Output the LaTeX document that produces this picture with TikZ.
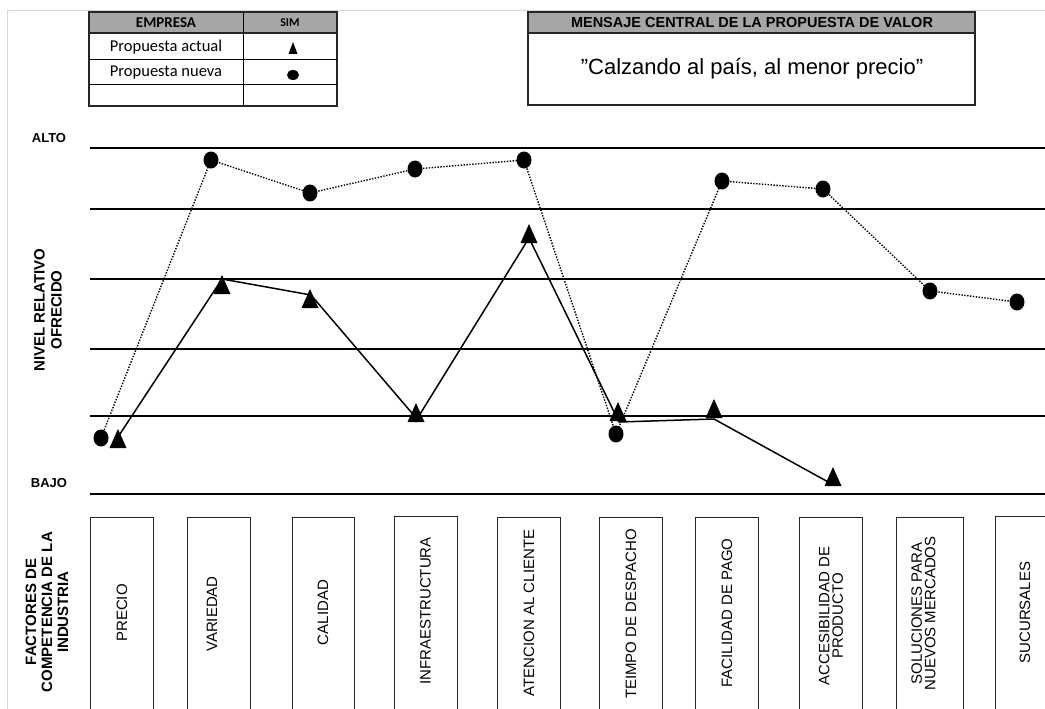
\documentclass[tikz,border=0pt]{standalone}
\usepackage{fontspec}
\usetikzlibrary{calc}
\setmainfont{Liberation Sans}
\newfontfamily\carlito{Carlito}
\begin{document}
\begin{tikzpicture}[x=1pt,y=-1pt,
  grid/.style={line width=1.6pt,black},
  frame/.style={line width=1.3pt,black!85},
  boxline/.style={draw,line width=1.3pt,black!85,anchor=north west,minimum height=220pt,inner sep=0pt},
  factor/.style={rotate=90,align=center,font=\fontsize{15}{13.5}\selectfont},
  axis/.style={font=\bfseries\fontsize{13}{15}\selectfont},
  actual/.style={line width=1.5pt,black},
  nueva/.style={line width=1.4pt,black,dash pattern=on 1.4pt off 1.5pt},
  tri/.pic={\fill (-8.5,8) -- (8.5,8) -- (0,-11) -- cycle;},
  dot/.pic={\fill (0,0) ellipse [x radius=7.5pt,y radius=8.5pt];}
]
\useasboundingbox (0,0) rectangle (1045,709);
\clip (0,0) rectangle (1045,709);

% page edge hairlines
\draw[color={rgb,255:red,216;green,212;blue,226},line width=1pt] (7,712) -- (7,11) -- (1048,11);

% legend table
\fill[black!35] (89,12) rectangle (337,33);
\draw[frame] (89,12) rectangle (337,106);
\draw[frame] (89,33) -- (337,33);
\draw[line width=1pt] (89,60) -- (337,60) (89,85) -- (337,85);
\draw[line width=1pt] (243,12) -- (243,106);
\node[font=\carlito\bfseries\fontsize{15}{18}\selectfont] (emp) at (166,22.5) {EMPRESA};
\node[font=\carlito\bfseries\fontsize{12}{14}\selectfont] (sim) at (290,23) {SIM};
\node[font=\carlito\fontsize{16.5}{19}\selectfont] (pa) at (166,47) {Propuesta actual};
\node[font=\carlito\fontsize{16.5}{19}\selectfont] (pn) at (166,73) {Propuesta nueva};
\fill (288.5,54) -- (297.5,54) -- (293,42) -- cycle;
\fill (293,75) ellipse [x radius=6pt,y radius=5pt];

% value message
\fill[black!35] (528,12) rectangle (975,33);
\draw[frame] (528,12) rectangle (975,105);
\draw[frame] (528,33) -- (975,33);
\node[font=\bfseries\fontsize{14.5}{17}\selectfont] (mh) at (752,22.5) {MENSAJE CENTRAL DE LA PROPUESTA DE VALOR};
\node[font=\fontsize{22}{26}\selectfont] (mb) at (752,69) {\char34 Calzando al país, al menor precio\char34};

% level grid
\foreach \yy in {148,209,279,349,416,494} \draw[grid] (90,\yy) -- (1048,\yy);
\node[axis] (alto) at (49,138) {ALTO};
\node[axis] (bajo) at (49,483) {BAJO};
\node[rotate=90,align=center,font=\bfseries\fontsize{15}{17}\selectfont] (nivel) at (48,310) {NIVEL RELATIVO\\OFRECIDO};
\node[rotate=90,align=center,font=\bfseries\fontsize{15}{16}\selectfont] (fact) at (47,612) {FACTORES DE\\COMPETENCIA DE LA\\INDUSTRIA};

% factor boxes
\node[boxline,minimum width=63pt] (b1) at (90,517) {};
\node[boxline,minimum width=63pt] (b2) at (187,517) {};
\node[boxline,minimum width=62pt] (b3) at (292,517) {};
\node[boxline,minimum width=63pt] (b4) at (394,516) {};
\node[boxline,minimum width=63pt] (b5) at (497,517) {};
\node[boxline,minimum width=63pt] (b6) at (599,517) {};
\node[boxline,minimum width=63pt] (b7) at (695,517) {};
\node[boxline,minimum width=63pt] (b8) at (799,517) {};
\node[boxline,minimum width=67pt] (b9) at (896,517) {};
\node[boxline,minimum width=63pt] (b10) at (995,516) {};
\node[factor] (f1) at (122,613) {PRECIO};
\node[factor] (f2) at (212,614) {VARIEDAD};
\node[factor] (f3) at (323,612.5) {CALIDAD};
\node[factor] (f4) at (425.5,611) {INFRAESTRUCTURA};
\node[factor] (f5) at (529,613) {ATENCION AL CLIENTE};
\node[factor] (f6) at (631,614) {TEIMPO DE DESPACHO};
\node[factor] (f7) at (727,613) {FACILIDAD DE PAGO};
\node[factor] (f8) at (831,616) {ACCESIBILIDAD DE\\PRODUCTO};
\node[factor] (f9) at (923.5,613.5) {SOLUCIONES PARA\\NUEVOS MERCADOS};
\node[factor] (f10) at (1025,612.5) {SUCURSALES};

% new proposal (circles, dotted)
\coordinate (n1) at (101,438);
\coordinate (n2) at (211,160);
\coordinate (n3) at (310,193);
\coordinate (n4) at (415,169);
\coordinate (n5) at (524,160);
\coordinate (n6) at (616,434);
\coordinate (n7) at (722,181);
\coordinate (n8) at (823,189);
\coordinate (n9) at (930,291);
\coordinate (n10) at (1017,302);
\draw[nueva] (n1) -- (n2) -- (n3) -- (n4) -- (n5) -- (n6) -- (n7) -- (n8) -- (n9) -- (n10);
\foreach \p in {n1,n2,n3,n4,n5,n6,n7,n8,n9,n10} \pic at (\p) {dot};

% current proposal (triangles, solid)
\coordinate (a1) at (116,440);
\coordinate (a2) at (222,279);
\coordinate (a3) at (311,295);
\coordinate (a4) at (417,419);
\coordinate (a5) at (529,238);
\coordinate (a6) at (619,422);
\coordinate (a7) at (714,419);
\coordinate (a8) at (830,483);
\draw[actual] (a1) -- (a2) -- (a3) -- (a4) -- (a5) -- (a6) -- (a7) -- (a8);
\foreach \p/\dx/\dy in {a1/2/0,a2/0/7,a3/-1/5,a4/-1/-5,a5/0/-3,a6/-1/-9,a7/0/-9,a8/3/-5}
  \pic at ($(\p)+(\dx,\dy)$) {tri};
\end{tikzpicture}
\end{document}
